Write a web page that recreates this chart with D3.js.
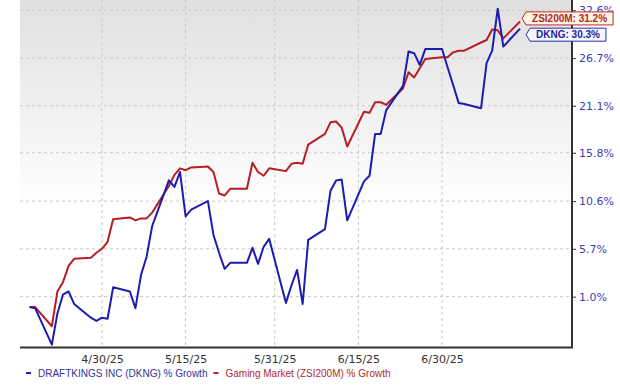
<html>
<head>
<script src="https://d3js.org/d3.v7.min.js"></script>
<style>
  body { margin: 0; background: #fff; }
  svg { display: block; }
</style>
</head>
<body>
<svg width="620" height="389"></svg>
<script>
// trading days (holidays carried flat, as in the source chart)
var dates = ["2025-04-17","2025-04-18","2025-04-21","2025-04-22","2025-04-23","2025-04-24","2025-04-25","2025-04-28","2025-04-29","2025-04-30",
  "2025-05-01","2025-05-02","2025-05-05","2025-05-06","2025-05-07","2025-05-08","2025-05-09","2025-05-12","2025-05-13","2025-05-14","2025-05-15","2025-05-16",
  "2025-05-19","2025-05-20","2025-05-21","2025-05-22","2025-05-23","2025-05-26","2025-05-27","2025-05-28","2025-05-29","2025-05-30",
  "2025-06-02","2025-06-03","2025-06-04","2025-06-05","2025-06-06","2025-06-09","2025-06-10","2025-06-11","2025-06-12","2025-06-13",
  "2025-06-16","2025-06-17","2025-06-18","2025-06-19","2025-06-20","2025-06-23","2025-06-24","2025-06-25","2025-06-26","2025-06-27","2025-06-30",
  "2025-07-01","2025-07-02","2025-07-03","2025-07-04","2025-07-07","2025-07-08","2025-07-09","2025-07-10","2025-07-11","2025-07-14"];

// % growth, DraftKings
var dkng = [0.0,-0.1,-3.5,-0.6,1.2,1.5,0.3,-1.0,-1.3,-1.0,
  -1.1,1.9,1.5,-0.1,3.1,4.9,8.0,12.8,12.1,13.7,9.0,9.7,10.6,7.1,5.3,3.7,4.3,4.3,5.8,4.2,5.9,6.7,
  0.4,2.1,3.6,0.3,6.6,7.7,11.7,12.8,12.9,8.6,12.7,13.3,17.9,17.9,20.6,23.4,27.5,27.3,25.9,27.8,27.8,
  25.6,23.5,21.4,21.3,20.8,26.1,27.6,32.8,28.1,30.3];

// % growth, Gaming Market (ZSI200M)
var zsi = [0.0,0.0,-1.8,1.5,2.4,4.0,4.7,4.8,5.3,5.7,
  6.4,8.7,8.9,8.6,8.8,8.8,9.4,12.2,13.4,14.1,13.9,14.2,14.3,13.7,11.4,11.2,11.9,11.9,14.7,13.7,13.3,14.1,
  13.8,14.6,14.7,14.6,16.7,17.9,19.2,19.3,18.6,16.5,20.4,20.3,21.5,21.5,21.2,23.1,25.0,24.4,25.5,26.6,26.8,
  26.8,27.4,27.6,27.6,28.6,28.9,30.2,30.1,29.1,31.2];

var yTicks = [1.0, 5.7, 10.6, 15.8, 21.1, 26.7, 32.6];
var xTicks = ["2025-04-30","2025-05-15","2025-05-31","2025-06-15","2025-06-30"];
var seriesNames = ["DRAFTKINGS INC (DKNG) % Growth", "Gaming Market (ZSI200M) % Growth"];
var tagNames = ["DKNG", "ZSI200M"];

var parse = d3.timeParse("%Y-%m-%d");
var fmt = d3.timeFormat("%-m/%-d/%y");

var plotLeft = 20, plotRight = 572, plotTop = 0, plotBottom = 347;

var x = d3.scaleTime()
    .domain([parse("2025-04-30"), parse("2025-06-30")])
    .range([102, 442]);

// log scale on growth factor (1 + g)
var y = d3.scaleLog()
    .domain([0.9628, 1.3390])
    .range([plotBottom, plotTop]);

var svg = d3.select("svg");

var grad = svg.append("defs").append("linearGradient")
    .attr("id", "bg").attr("x1", 0).attr("y1", 0).attr("x2", 0).attr("y2", 1);
grad.append("stop").attr("offset", "0").attr("stop-color", "#e0e0e0");
grad.append("stop").attr("offset", "0.6").attr("stop-color", "#ffffff");

svg.append("rect")
    .attr("x", plotLeft).attr("y", plotTop)
    .attr("width", plotRight - plotLeft).attr("height", plotBottom - plotTop)
    .style("fill", "url(#bg)");

// grid
svg.append("g").selectAll("line").data(yTicks).enter().append("line")
    .attr("x1", plotLeft).attr("x2", plotRight)
    .attr("y1", function(d) { return y(1 + d / 100); })
    .attr("y2", function(d) { return y(1 + d / 100); })
    .style("stroke", "#c8c8c8").style("stroke-dasharray", "3,3");

svg.append("g").selectAll("line").data(xTicks).enter().append("line")
    .attr("x1", function(d) { return x(parse(d)); })
    .attr("x2", function(d) { return x(parse(d)); })
    .attr("y1", plotTop).attr("y2", plotBottom)
    .style("stroke", "#c8c8c8").style("stroke-dasharray", "3,3");

var rows = dates.map(function(d, i) { return { date: parse(d), dkng: dkng[i], zsi: zsi[i] }; });

var lineZsi = d3.line()
    .x(function(d) { return x(d.date); })
    .y(function(d) { return y(1 + d.zsi / 100); });
var lineDkng = d3.line()
    .x(function(d) { return x(d.date); })
    .y(function(d) { return y(1 + d.dkng / 100); });

svg.append("path").datum(rows)
    .attr("d", lineZsi)
    .style("fill", "none").style("stroke", "#b51f24").style("stroke-width", 2)
    .style("stroke-linejoin", "round");
svg.append("path").datum(rows)
    .attr("d", lineDkng)
    .style("fill", "none").style("stroke", "#1c1cb0").style("stroke-width", 2)
    .style("stroke-linejoin", "round");

// axes
svg.append("line")
    .attr("x1", plotLeft).attr("x2", plotRight + 1).attr("y1", plotBottom + 0.5).attr("y2", plotBottom + 0.5)
    .style("stroke", "#333").style("stroke-width", 2);
svg.append("line")
    .attr("x1", plotRight).attr("x2", plotRight).attr("y1", plotTop).attr("y2", plotBottom + 1)
    .style("stroke", "#333").style("stroke-width", 2);

var yAxis = svg.append("g")
    .attr("transform", "translate(" + plotRight + ",0)")
    .call(d3.axisRight(y)
        .tickValues(yTicks.map(function(d) { return 1 + d / 100; }))
        .tickFormat(function(d, i) { return yTicks[i].toFixed(1) + "%"; })
        .tickSize(4).tickPadding(3));
yAxis.select(".domain").remove();
yAxis.selectAll("line").style("stroke", "#333");
yAxis.selectAll("text")
    .style("font-family", "DejaVu Sans").style("font-size", "11px").style("fill", "#3d3db5");

var xAxis = svg.append("g")
    .attr("transform", "translate(0," + plotBottom + ")")
    .call(d3.axisBottom(x)
        .tickValues(xTicks.map(parse))
        .tickFormat(fmt)
        .tickSize(0).tickPadding(8));
xAxis.select(".domain").remove();
xAxis.selectAll("text")
    .style("font-family", "DejaVu Sans").style("font-size", "11px").style("fill", "#333");

// legend
var legendColors = ["#2323b5", "#c02228"];
var legendText = ["#33339a", "#b02a30"];
var lx = 26;
seriesNames.forEach(function(name, i) {
    svg.append("rect").attr("x", lx).attr("y", 372).attr("width", 5).attr("height", 2)
        .style("fill", legendColors[i]);
    var t = svg.append("text").attr("x", lx + 12).attr("y", 377)
        .style("font-family", "Liberation Sans").style("font-size", "10px")
        .style("fill", legendText[i]).text(name);
    lx = lx + 12 + t.node().getComputedTextLength() + 6;
});

// end tags
var last = rows[rows.length - 1];
var tags = [
    { name: tagNames[1], value: last.zsi, dx: 2, dy: -3, stroke: "#c0282e", fill: "#fff6e4", color: "#b51f24" },
    { name: tagNames[0], value: last.dkng, dx: 6, dy: 6, stroke: "#2a2ab0", fill: "#f6f6ff", color: "#1f1f9a" }
];
tags.forEach(function(tg) {
    var tx = x(last.date) + tg.dx;
    var ty = y(1 + tg.value / 100) + tg.dy;
    var g = svg.append("g");
    var path = g.append("path");
    var t = g.append("text")
        .attr("x", tx + 10).attr("y", ty + 3.5)
        .style("font-family", "Liberation Sans").style("font-size", "10px").style("font-weight", "bold")
        .style("fill", tg.color)
        .text(tg.name + ": " + tg.value.toFixed(1) + "%");
    var w = t.node().getComputedTextLength();
    var h = 13, bx = tx + 4;
    path.attr("d", "M" + tx + "," + ty + "L" + bx + "," + (ty - h / 2) + "L" + (tx + 10 + w + 6) + "," + (ty - h / 2) +
            "L" + (tx + 10 + w + 6) + "," + (ty + h / 2) + "L" + bx + "," + (ty + h / 2) + "Z")
        .style("fill", tg.fill).style("stroke", tg.stroke).style("stroke-width", 1);
});
</script>
</body>
</html>
